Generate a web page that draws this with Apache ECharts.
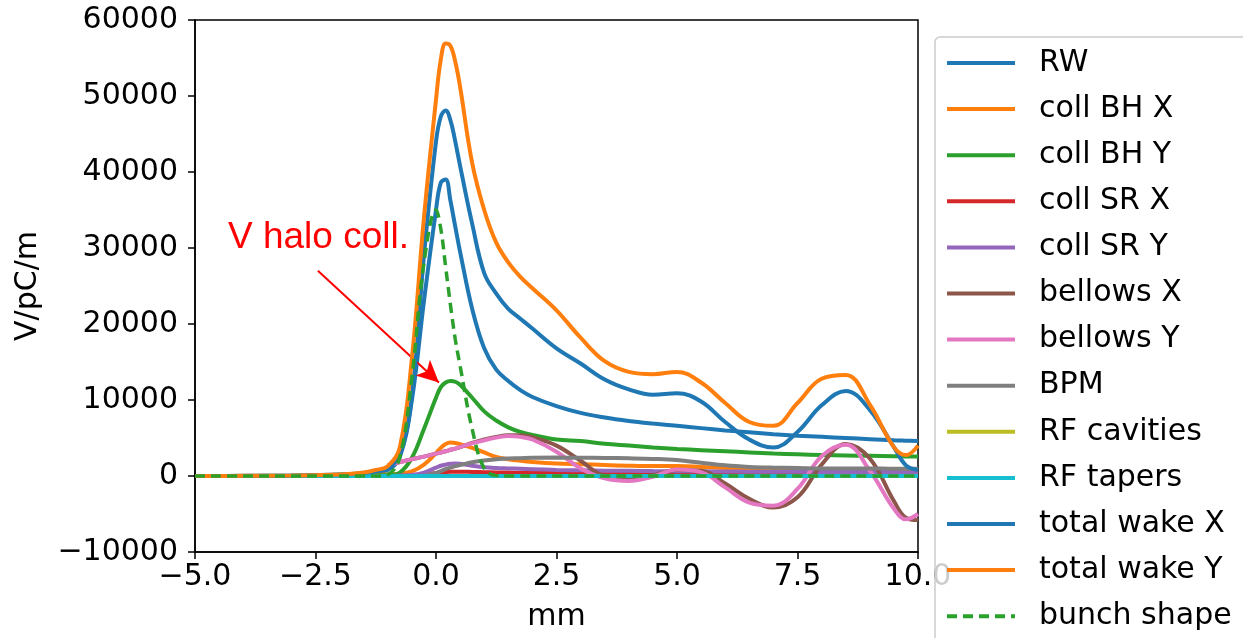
<!DOCTYPE html>
<html>
<head>
<meta charset="utf-8">
<script src="https://cdn.jsdelivr.net/npm/echarts@6/dist/echarts.min.js"></script>
<style>
html,body{margin:0;padding:0;background:#fff;}
#chart{width:1243px;height:638px;}
</style>
</head>
<body>
<div id="chart"></div>
<script>
// x positions (mm)
const xs = [-5, -4, -3, -2, -1.5, -1.25, -1, -0.75, -0.5, -0.25, 0, 0.1, 0.2, 0.3, 0.4, 0.5, 0.75, 1, 1.25, 1.5, 1.75, 2, 2.5, 3, 3.5, 4, 4.5, 5, 5.5, 6, 6.5, 7, 7.5, 8, 8.5, 9, 9.5, 9.75, 10];

const seriesNames = ['RW', 'coll BH X', 'coll BH Y', 'coll SR X', 'coll SR Y', 'bellows X', 'bellows Y', 'BPM', 'RF cavities', 'RF tapers', 'total wake X', 'total wake Y', 'bunch shape'];

const rw = [0, 10, 40, 150, 300, 450, 800, 2500, 10000, 23000, 35000, 38600, 39000, 36200, 32800, 29500, 22000, 16800, 14000, 12500, 11300, 10400, 9200, 8300, 7700, 7250, 6900, 6600, 6300, 6000, 5750, 5500, 5300, 5150, 5000, 4850, 4700, 4650, 4600];
const collBHX = [0, 0, 10, 40, 80, 120, 200, 300, 600, 1500, 3000, 3700, 4200, 4400, 4350, 4200, 3700, 3100, 2500, 2200, 2000, 1850, 1650, 1550, 1450, 1350, 1300, 1300, 1200, 1050, 950, 900, 850, 800, 750, 700, 680, 665, 650];
const collBHY = [0, 0, 10, 40, 60, 80, 100, 450, 2400, 6200, 10300, 11700, 12300, 12500, 12400, 12000, 10300, 8500, 7300, 6400, 5800, 5400, 4800, 4600, 4250, 4000, 3750, 3550, 3400, 3250, 3100, 2950, 2850, 2750, 2700, 2650, 2600, 2570, 2550];
const collSRX = [0, 0, 0, 0, 0, 0, 0, 20, 50, 150, 400, 480, 520, 550, 560, 560, 530, 500, 470, 450, 430, 420, 400, 380, 360, 350, 340, 330, 320, 310, 300, 300, 290, 290, 280, 280, 270, 270, 270];
const collSRY = [0, 0, 0, 0, 0, 0, 0, 50, 150, 450, 1100, 1350, 1500, 1600, 1650, 1600, 1350, 1150, 1050, 1000, 950, 900, 800, 750, 700, 680, 650, 630, 610, 590, 570, 560, 550, 540, 530, 520, 510, 505, 500];
const bellowsX = [null, null, null, null, null, null, 1400, 1850, 2200, 2550, 2950, 3100, 3250, 3450, 3600, 3800, 4350, 4800, 5150, 5350, 5350, 5100, 4000, 2000, 0, -300, 100, 800, 700, -1000, -3000, -4150, -2800, 1500, 4200, 2300, -3300, -5500, -5800];
const bellowsY = [null, null, null, null, null, null, 1400, 1850, 2200, 2550, 2950, 3100, 3250, 3450, 3600, 3800, 4300, 4700, 5050, 5250, 5150, 4800, 3200, 1000, -300, -650, -100, 850, 500, -1500, -3500, -3900, -1700, 2600, 4100, 700, -4300, -5700, -5000];
const bpm = [0, 0, 0, 0, 0, 0, 0, 0, 0, 50, 400, 650, 900, 1100, 1300, 1450, 1800, 2050, 2200, 2300, 2350, 2400, 2420, 2400, 2380, 2330, 2250, 2100, 1750, 1400, 1200, 1100, 1050, 1000, 1000, 1000, 950, 950, 950];
const rfCavities = [0, 0, 0, 0, 0, 0, 0, 0, 0, 0, 0, 0, 0, 0, 0, 0, 0, 0, 0, 0, 0, 0, 0, 0, 0, 0, 0, 0, 0, 0, 0, 0, 0, 0, 0, 0, 0, 0, 0];
const rfTapers = [0, 0, 0, 0, 0, 0, 0, 0, 0, 0, 0, 0, 0, 0, 0, 0, 0, 0, 0, 0, 0, 0, 0, 0, 0, 0, 0, 0, 0, 0, 0, 0, 0, 0, 0, 0, 0, 0, 0];
const totalX = [0, 20, 60, 200, 400, 600, 1000, 2900, 10500, 29000, 44000, 47300, 48100, 46800, 44000, 40800, 33200, 26700, 24000, 22000, 20700, 19400, 16800, 14800, 12700, 11400, 10700, 10900, 9800, 7100, 4800, 3750, 5800, 9300, 11200, 8700, 3800, 1400, 800];
const totalY = [0, 20, 60, 200, 450, 800, 1300, 3800, 15500, 34000, 49500, 54800, 56900, 56600, 54500, 51200, 41200, 35000, 30700, 28100, 26200, 24700, 21800, 18200, 15100, 13700, 13400, 13700, 12300, 9600, 7100, 6600, 9600, 12800, 13300, 9400, 3800, 2750, 4000];
const bunch = [0, 0, 0, 0, 0, 0, 200, 2500, 13000, 28000, 35000, 32500, 27500, 22500, 18000, 14500, 6200, 1000, 50, 0, 0, 0, 0, 0, 0, 0, 0, 0, 0, 0, 0, 0, 0, 0, 0, 0, 0, 0, 0];

const yTicks = {min: -10000, max: 60000, interval: 10000};
const xTicks = {min: -5, max: 10, interval: 2.5};

const allValues = [rw, collBHX, collBHY, collSRX, collSRY, bellowsX, bellowsY, bpm, rfCavities, rfTapers, totalX, totalY, bunch];
const colors = ['#1f77b4', '#ff7f0e', '#2ca02c', '#d62728', '#9467bd', '#8c564b', '#e377c2', '#7f7f7f', '#bcbd22', '#17becf', '#1f77b4', '#ff7f0e', '#2ca02c'];

const FONT = 'DejaVu Sans';
const minus = v => (v < 0 ? '\u2212' + Math.abs(v) : String(v));

const series = allValues.map((vals, i) => {
  const isBunch = i === 12;
  const s = {
    name: seriesNames[i],
    type: 'line',
    data: xs.map((x, k) => [x, vals[k]]),
    symbol: 'none',
    showSymbol: false,
    connectNulls: false,
    smooth: 0.4,
    color: colors[i],
    lineStyle: {width: isBunch ? 3.5 : 4, color: colors[i], type: isBunch ? [10, 6] : 'solid'},
    z: 2 + i,
    animation: false
  };
  if (isBunch) {
    s.markLine = {
      silent: true,
      symbol: ['none', 'arrow'],
      symbolSize: [16, 22],
      label: {show: false},
      lineStyle: {color: '#ff0000', width: 2, type: 'solid'},
      data: [[{coord: [-2.45, 27000]}, {coord: [0.06, 12300]}]],
      animation: false
    };
  }
  return s;
});

const chart = echarts.init(document.getElementById('chart'), null, {renderer: 'canvas'});
chart.setOption({
  backgroundColor: '#ffffff',
  animation: false,
  grid: {left: 195, top: 20, right: 325, bottom: 86, show: true, borderColor: '#000', borderWidth: 1.5, backgroundColor: 'transparent'},
  xAxis: {
    type: 'value', min: xTicks.min, max: xTicks.max, interval: xTicks.interval,
    name: 'mm', nameLocation: 'middle', nameGap: 50,
    nameTextStyle: {fontFamily: FONT, fontSize: 30, color: '#000'},
    axisLine: {show: true, onZero: false, lineStyle: {color: '#000', width: 1.5}},
    axisTick: {show: true, inside: false, length: 7, lineStyle: {color: '#000', width: 1.5}},
    axisLabel: {fontFamily: FONT, fontSize: 30, color: '#000', margin: 10,
      formatter: v => (v < 0 ? '\u2212' + Math.abs(v).toFixed(1) : v.toFixed(1))},
    splitLine: {show: false}
  },
  yAxis: {
    type: 'value', min: yTicks.min, max: yTicks.max, interval: yTicks.interval,
    name: 'V/pC/m', nameLocation: 'middle', nameGap: 152,
    nameTextStyle: {fontFamily: FONT, fontSize: 30, color: '#000'},
    axisLine: {show: true, onZero: false, lineStyle: {color: '#000', width: 1.5}},
    axisTick: {show: true, inside: false, length: 7, lineStyle: {color: '#000', width: 1.5}},
    axisLabel: {fontFamily: FONT, fontSize: 30, color: '#000', margin: 17, formatter: minus},
    splitLine: {show: false}
  },
  legend: {
    orient: 'vertical', left: 935, top: 37, height: 630,
    data: seriesNames,
    itemWidth: 68, itemHeight: 14, itemGap: 16.1,
    padding: [11, 40, 20, 10],
    backgroundColor: 'rgba(255,255,255,0.8)',
    borderColor: '#cccccc', borderWidth: 1.5, borderRadius: 5,
    itemStyle: {opacity: 0},
    lineStyle: {width: 4},
    textStyle: {fontFamily: FONT, fontSize: 30, color: '#000', lineHeight: 30, padding: [0, 0, 0, 19]},
    selectedMode: false
  },
  graphic: [{
    type: 'text', left: 228, top: 219, z: 100,
    style: {text: 'V halo coll.', fill: '#ff0000', font: '37px "Liberation Sans"'}
  }],
  series: series
});
</script>
</body>
</html>
